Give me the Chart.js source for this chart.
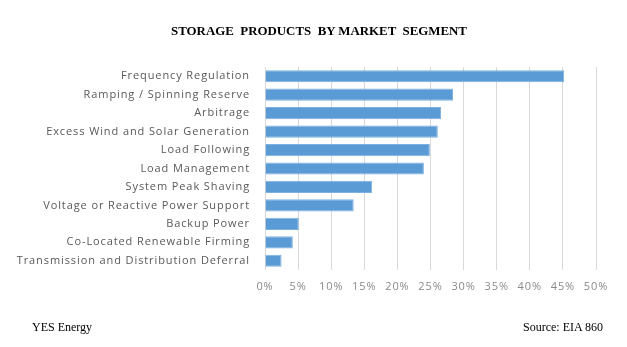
<!DOCTYPE html>
<html>
<head>
<meta charset="utf-8">
<script src="https://cdn.jsdelivr.net/npm/chart.js@4"></script>
<style>
  html, body { margin: 0; padding: 0; background: #fff; }
  #wrap { position: relative; width: 627px; height: 347px; overflow: hidden; }
  #chart { position: absolute; left: 0; top: 0; }
  .txt { position: absolute; font-family: "Liberation Serif", "Times New Roman", serif; color: #000; white-space: pre; }
  #title { top: 24px; left: 0; width: 638px; text-align: center; font-weight: bold; font-size: 12.9px; }
  #left { top: 320px; left: 32px; font-size: 12px; }
  #right { top: 320px; right: 24px; font-size: 12px; }
</style>
</head>
<body>
<div id="wrap">
  <canvas id="chart" width="627" height="347"></canvas>
  <div class="txt" id="title">STORAGE  PRODUCTS  BY MARKET  SEGMENT</div>
  <div class="txt" id="left">YES Energy</div>
  <div class="txt" id="right">Source: EIA 860</div>
</div>
<script>
// segments, top to bottom
const segments = [
  'Frequency Regulation',
  'Ramping / Spinning Reserve',
  'Arbitrage',
  'Excess Wind and Solar Generation',
  'Load Following',
  'Load Management',
  'System Peak Shaving',
  'Voltage or Reactive Power Support',
  'Backup Power',
  'Co-Located Renewable Firming',
  'Transmission and Distribution Deferral'
]
// share of storage products (%)
const shares = [45.2, 28.4, 26.6, 26.1, 24.9, 24.0, 16.2, 13.4, 5.1, 4.2, 2.5]
const xMin = 0
const xMax = 50
const xStep = 5

// the Excel labels are set rather loose, so widen the canvas text a little
const spacing = {
  id: 'spacing',
  beforeDraw(chart) { chart.ctx.letterSpacing = '0.9px' }
}

const ctx = document.getElementById('chart').getContext('2d')
new Chart(ctx, {
  type: 'bar',
  data: {
    labels: segments,
    datasets: [{
      data: shares,
      backgroundColor: '#5b9bd5',
      borderColor: '#7eb0df',
      borderWidth: 1,
      barPercentage: 0.66,
      categoryPercentage: 1
    }]
  },
  options: {
    indexAxis: 'y',
    responsive: false,
    animation: false,
    layout: { padding: { left: 0, right: 31, top: 67, bottom: 0 } },
    plugins: {
      legend: { display: false },
      title: { display: false },
      tooltip: { enabled: false }
    },
    scales: {
      x: {
        min: xMin,
        max: xMax,
        afterFit: (scale) => { scale.height = 77 },
        grid: { color: '#d9d9d9', lineWidth: 1, drawTicks: false },
        border: { display: false },
        ticks: {
          stepSize: xStep,
          padding: 10,
          color: '#8a8a8a',
          font: { family: 'Open Sans', size: 11 },
          callback: (v) => v + '%'
        }
      },
      y: {
        afterFit: (scale) => { scale.width = 265 },
        grid: { display: false, drawTicks: false },
        border: { display: false },
        ticks: {
          padding: 15,
          color: '#595959',
          font: { family: 'Open Sans', size: 11 }
        }
      }
    }
  },
  plugins: [spacing]
})
</script>
</body>
</html>
